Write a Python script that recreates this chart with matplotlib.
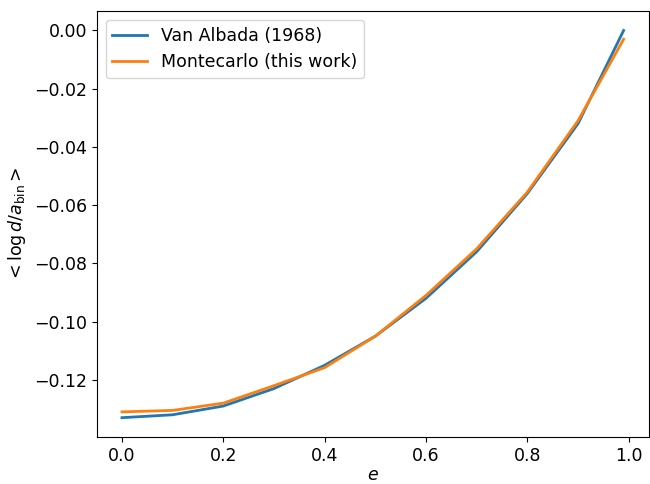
import matplotlib
matplotlib.use("Agg")
import matplotlib.pyplot as plt

# eccentricity grid
ecc = [0.0, 0.1, 0.2, 0.3, 0.4, 0.5, 0.6, 0.7, 0.8, 0.9, 0.99]
# mean log(d/a_bin)
van_albada = [-0.1330, -0.1320, -0.1290, -0.1230, -0.1150, -0.1050,
              -0.0920, -0.0760, -0.0560, -0.0320, 0.0000]
montecarlo = [-0.1310, -0.1305, -0.1280, -0.1220, -0.1158, -0.1050,
              -0.0910, -0.0750, -0.0555, -0.0310, -0.0030]

plt.rcParams["font.size"] = 12.5

fig, ax = plt.subplots(figsize=(6.5, 4.84), dpi=100)
ax.plot(ecc, van_albada, color="#1f77b4", lw=2, label="Van Albada (1968)")
ax.plot(ecc, montecarlo, color="#ff7f0e", lw=2, label="Montecarlo (this work)")
ax.set_xlabel(r"$e$", labelpad=1)
ax.set_ylabel(r"$<\log d/a_{\rm bin}>$")
ax.legend(loc="upper left")

fig.subplots_adjust(left=0.149, right=0.998, top=0.977, bottom=0.097)
fig.savefig("out.png", dpi=100)
